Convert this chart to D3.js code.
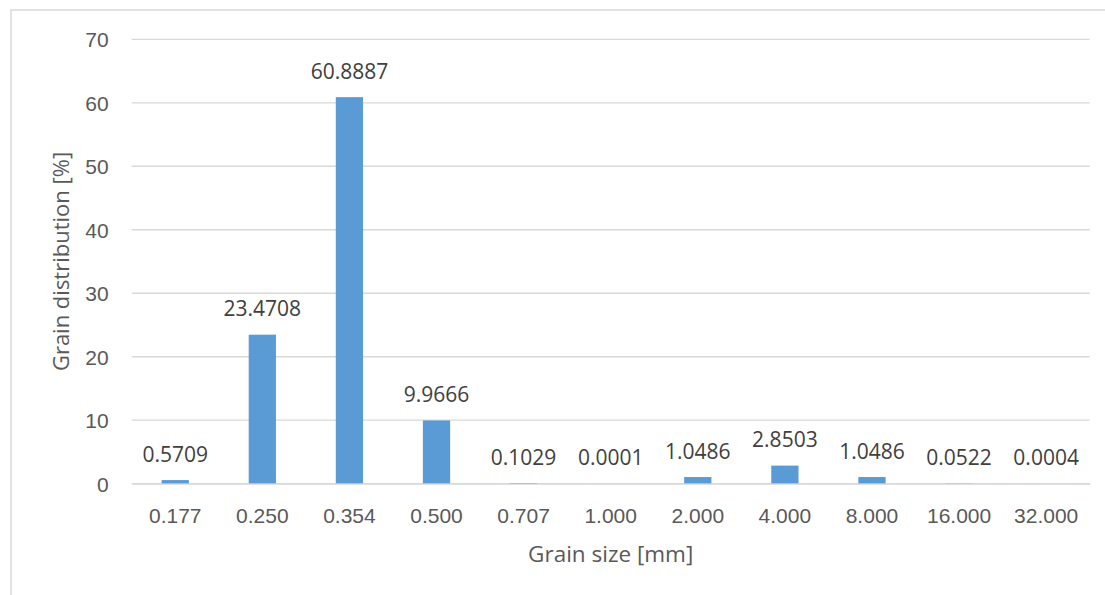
<!DOCTYPE html>
<html><head><meta charset="utf-8">
<script src="https://cdn.jsdelivr.net/npm/d3@7"></script>
<style>body{margin:0;background:#fff;}svg{display:block;font-family:"Open Sans",sans-serif;}</style>
</head><body><svg id="c" width="1105" height="595"></svg>
<script>
const categories = ["0.177","0.250","0.354","0.500","0.707","1.000","2.000","4.000","8.000","16.000","32.000"];
const values = [0.5709,23.4708,60.8887,9.9666,0.1029,0.0001,1.0486,2.8503,1.0486,0.0522,0.0004];
const yTicks = [0,10,20,30,40,50,60,70];
const xTitle = "Grain size [mm]";
const yTitle = "Grain distribution [%]";

const svg = d3.select("#c");
const m = {left:131.7, right:1089.7, top:39.3, bottom:483.7};
svg.append("rect").attr("x",11).attr("y",10).attr("width",1110).attr("height",600)
  .attr("fill","#fff").attr("stroke","#d9d9d9").attr("stroke-width",1.5);

const x = d3.scaleBand().domain(categories).range([m.left,m.right]).paddingInner(0.687).paddingOuter(0.3435);
const y = d3.scaleLinear().domain([0,70]).range([m.bottom,m.top]);

const grid = svg.append("g");
grid.selectAll("line").data(yTicks).join("line")
  .attr("x1",m.left).attr("x2",m.right).attr("y1",d=>y(d)).attr("y2",d=>y(d))
  .attr("stroke","#d9d9d9").attr("stroke-width",1.3);

const yAxis = svg.append("g").attr("transform",`translate(${m.left},0)`)
  .call(d3.axisLeft(y).tickValues(yTicks).tickSize(0).tickPadding(23));
yAxis.select(".domain").remove();
yAxis.selectAll("text").attr("fill","#595959").style("font-size","21px").attr("dy","0.36em");

svg.append("g").selectAll("rect").data(values).join("rect")
  .attr("x",(d,i)=>x(categories[i])).attr("width",x.bandwidth())
  .attr("y",d=>y(d)).attr("height",d=>m.bottom-y(d)).attr("fill","#5B9BD5");

svg.append("g").selectAll("text").data(values).join("text")
  .attr("x",(d,i)=>x(categories[i])+x.bandwidth()/2).attr("y",d=>y(d)-18.5)
  .attr("text-anchor","middle").attr("fill","#404040").style("font-size","21px")
  .text(d=>d.toFixed(4));

const xAxis = svg.append("g").attr("transform",`translate(0,${m.bottom})`)
  .call(d3.axisBottom(x).tickSize(0).tickPadding(0));
xAxis.select(".domain").attr("stroke","#d9d9d9").attr("stroke-width",1.3);
xAxis.selectAll("text").attr("fill","#595959").style("font-size","21px").attr("dy",null).attr("y",39);

svg.append("text").attr("x",(m.left+m.right)/2).attr("y",562).attr("text-anchor","middle")
  .attr("fill","#595959").style("font-size","22.5px").text(xTitle);
svg.append("text").attr("transform",`translate(69,${(m.top+m.bottom)/2}) rotate(-90)`)
  .attr("text-anchor","middle").attr("fill","#595959").style("font-size","22px").text(yTitle);
</script></body></html>
